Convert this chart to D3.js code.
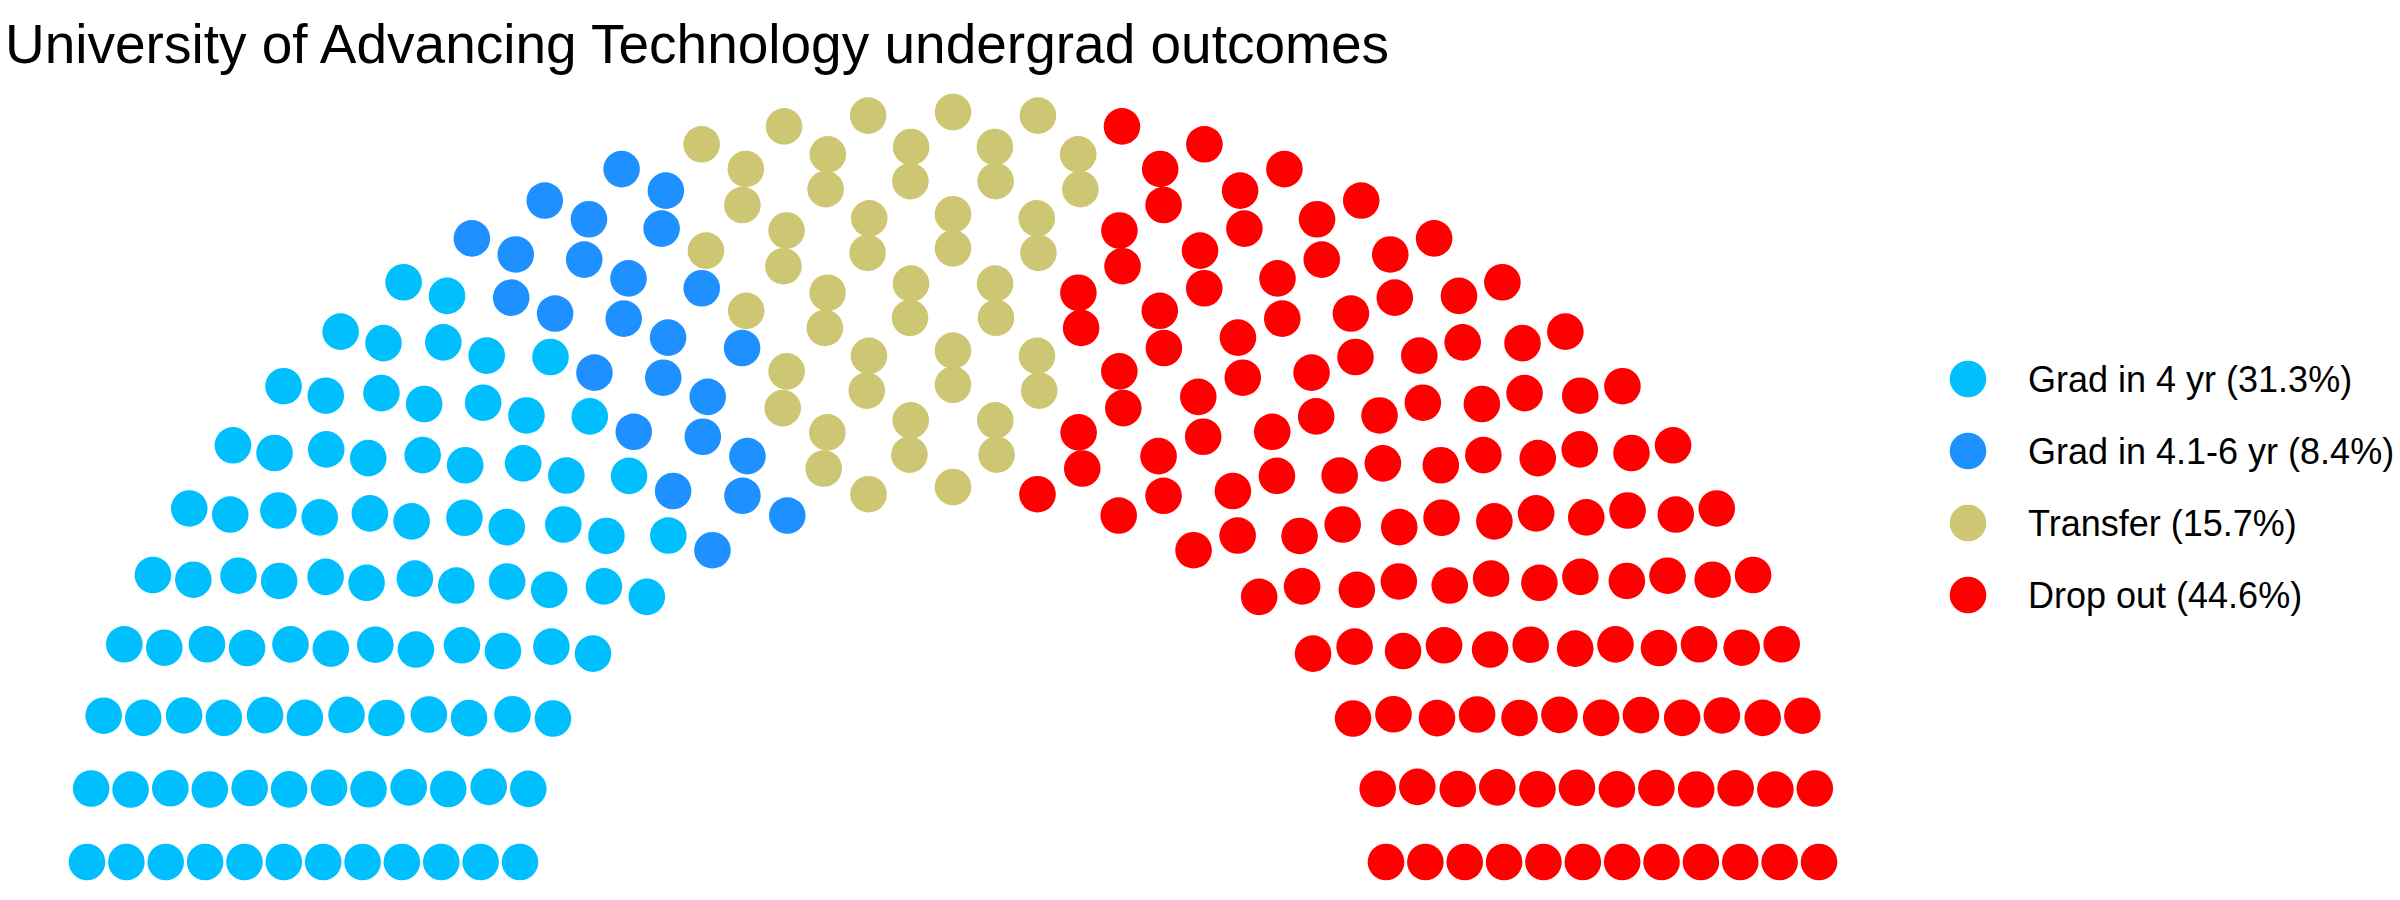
<!DOCTYPE html>
<html>
<head>
<meta charset="utf-8">
<script src="https://cdn.jsdelivr.net/npm/d3@7"></script>
<style>
  body { margin: 0; background: #fff; }
  text { font-family: "Liberation Sans", Arial, Helvetica, sans-serif; }
</style>
</head>
<body>
<svg id="chart" width="2400" height="900"></svg>
<script>
var width = 2400;
var height = 900;

// outcome groups, share of students and the seats each gets (300 seats total)
var parties = ["Grad in 4 yr", "Grad in 4.1-6 yr", "Transfer", "Drop out"];
var shares = ["31.3%", "8.4%", "15.7%", "44.6%"];
var seats = [94, 25, 47, 134];
var colours = ["#00BFFF", "#1E90FF", "#CDC673", "#FF0000"];

var parlRows = 12;

// semicircle layout, rows from radius 1 to 2
function calcCoordinates(N, M) {
    var radii = d3.range(M).map(function (i) { return 1 + i / (M - 1); });
    var pts = [];
    radii.forEach(function (r, i) {
        var rest = d3.sum(radii.slice(i));
        var count = Math.round(N * r / rest);
        for (var k = 0; k < count; k++) {
            var theta = k === count - 1 ? Math.PI : k * (Math.PI / (count - 1));
            pts.push({ x: r * Math.cos(theta), y: r * Math.sin(theta), row: i + 1, theta: theta });
        }
        N = N - count;
    });
    pts.sort(function (a, b) { return (b.theta - a.theta) || (b.row - a.row); });
    return pts;
}

var pts = calcCoordinates(d3.sum(seats), parlRows);
var partyOf = [];
parties.forEach(function (p, i) {
    for (var k = 0; k < seats[i]; k++) partyOf.push(p);
});
pts.forEach(function (d, i) { d.party = partyOf[i]; });

var x = d3.scaleLinear().domain([-2, 2]).range([87, 1819]);
var y = d3.scaleLinear().domain([0, 2]).range([862, 112]);
var colour = d3.scaleOrdinal().domain(parties).range(colours);

var svg = d3.select("#chart");

svg.append("text")
    .attr("x", 5)
    .attr("y", 63)
    .style("font-size", "55px")
    .style("fill", "#000")
    .text("University of Advancing Technology undergrad outcomes");

svg.append("g")
    .selectAll("circle")
    .data(pts)
    .join("circle")
    .attr("cx", function (d) { return x(d.x); })
    .attr("cy", function (d) { return y(d.y); })
    .attr("r", 18.3)
    .style("fill", function (d) { return colour(d.party); });

var legend = svg.append("g")
    .attr("transform", "translate(1968,379)");

var item = legend.selectAll("g")
    .data(parties)
    .join("g")
    .attr("transform", function (d, i) { return "translate(0," + (i * 72) + ")"; });

item.append("circle")
    .attr("r", 18.3)
    .style("fill", function (d) { return colour(d); });

item.append("text")
    .attr("x", 60)
    .attr("y", 13)
    .style("font-size", "36px")
    .style("fill", "#000")
    .text(function (d, i) { return d + " (" + shares[i] + ")"; });
</script>
</body>
</html>
